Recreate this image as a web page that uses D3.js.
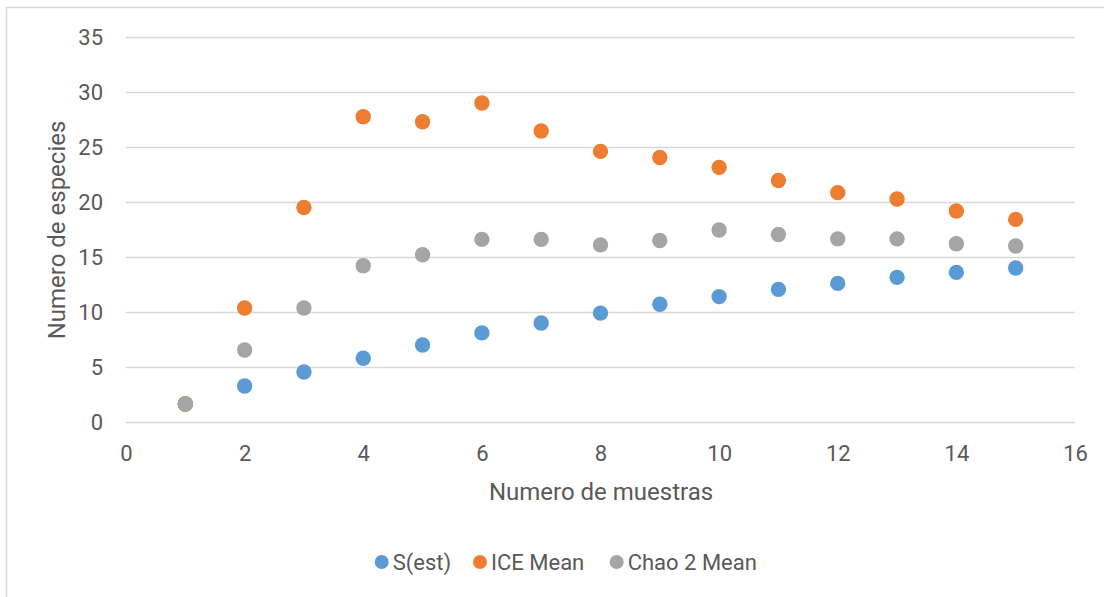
<!DOCTYPE html>
<html><head><meta charset="utf-8">
<script src="https://cdn.jsdelivr.net/npm/d3@7"></script>
<style>body{margin:0;background:#fff}svg{display:block}text{font-family:Roboto,"Open Sans",sans-serif;fill:#595959}</style>
</head><body>
<svg id="c" width="1104" height="597"></svg>
<script>
const samples = [1,2,3,4,5,6,7,8,9,10,11,12,13,14,15];
const sEst = [1.64,3.27,4.55,5.8,7.0,8.1,9.0,9.9,10.7,11.4,12.06,12.6,13.15,13.6,14.0];
const iceMean = [1.64,10.36,19.5,27.75,27.3,29.0,26.45,24.6,24.05,23.15,21.95,20.85,20.27,19.18,18.42];
const chao2Mean = [1.64,6.55,10.36,14.2,15.2,16.6,16.6,16.1,16.5,17.45,17.05,16.65,16.65,16.2,16.0];
const seriesNames = ["S(est)","ICE Mean","Chao 2 Mean"];
const colors = ["#5B9BD5","#ED7D31","#A5A5A5"];
const xTicks = [0,2,4,6,8,10,12,14,16];
const yTicks = [0,5,10,15,20,25,30,35];

const svg = d3.select("#c");
svg.append("rect").attr("x",6.5).attr("y",7.5).attr("width",1110).attr("height",600)
  .attr("fill","#fff").attr("stroke","#D9D9D9").attr("stroke-width",1.5);

const x = d3.scaleLinear().domain([0,16]).range([126,1075]);
const y = d3.scaleLinear().domain([0,35]).range([422,37]);

const yAxis = d3.axisLeft(y).tickValues(yTicks).tickSize(-(1075-126)).tickPadding(23);
const gy = svg.append("g").attr("transform","translate(126,0)").call(yAxis);
gy.select(".domain").remove();
gy.selectAll(".tick line").attr("stroke","#D9D9D9").attr("stroke-width",1.5);
gy.selectAll(".tick text").attr("font-size",22).attr("font-family","Roboto").style("fill","#595959");

const xAxis = d3.axisBottom(x).tickValues(xTicks).tickSize(0).tickPadding(23);
const gx = svg.append("g").attr("transform","translate(0,422)").call(xAxis);
gx.select(".domain").remove();
gx.selectAll(".tick text").attr("font-size",22).attr("font-family","Roboto").style("fill","#595959");

svg.append("text").attr("x",601).attr("y",500).attr("text-anchor","middle").attr("font-size",24).text("Numero de muestras");
svg.append("text").attr("transform","translate(65,230) rotate(-90)").attr("text-anchor","middle").attr("font-size",24).text("Numero de especies");

const all = [sEst, iceMean, chao2Mean];
all.forEach((vals,i)=>{
  svg.append("g").selectAll("circle").data(vals).join("circle")
    .attr("cx",(d,j)=>x(samples[j])).attr("cy",d=>y(d)).attr("r",7.7).attr("fill",colors[i]);
});

const legX = [381.7,480,616.7];
const lg = svg.append("g");
seriesNames.forEach((n,i)=>{
  lg.append("circle").attr("cx",legX[i]).attr("cy",562).attr("r",7).attr("fill",colors[i]);
  lg.append("text").attr("x",legX[i]+11).attr("y",570).attr("font-size",22).text(n);
});
</script>
</body></html>
